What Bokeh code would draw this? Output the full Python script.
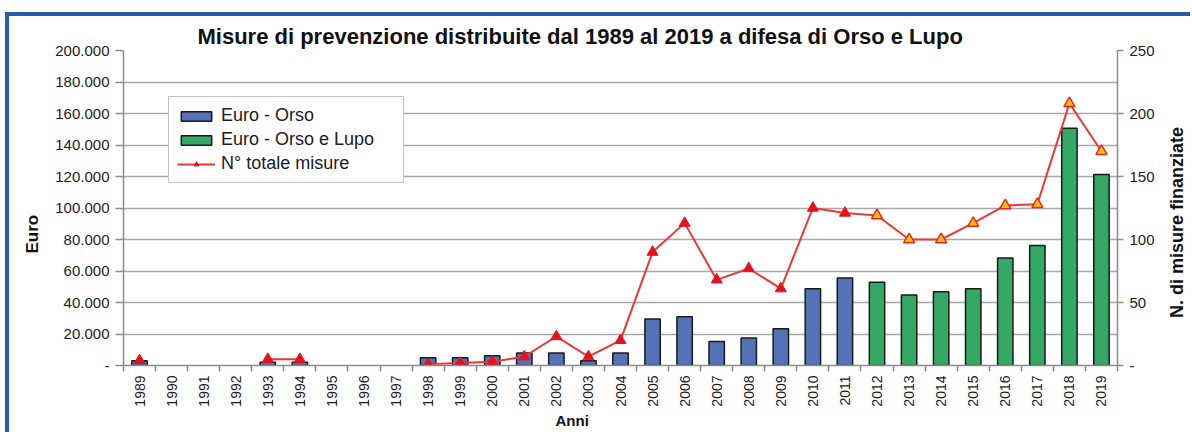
import math
from bokeh.plotting import figure
from bokeh.layouts import row
from bokeh.models import (Range1d, LinearAxis, FixedTicker, ColumnDataSource, Legend,
                          LegendItem, Title, Label, CustomJSTickFormatter)
from bokeh.embed import file_html
from bokeh.resources import INLINE

# ---------------- data ----------------
years = ["1989", "1990", "1991", "1992", "1993", "1994", "1995", "1996", "1997", "1998",
         "1999", "2000", "2001", "2002", "2003", "2004", "2005", "2006", "2007", "2008",
         "2009", "2010", "2011", "2012", "2013", "2014", "2015", "2016", "2017", "2018", "2019"]

euro_orso = [3000, None, None, None, 2000, 2000, None, None, None, 5000,
             5000, 6200, 8000, 8000, 3000, 8000, 29500, 31000, 15300, 17500,
             23400, 48700, 55500, None, None, None, None, None, None, None, None]

euro_orso_lupo = [None, None, None, None, None, None, None, None, None, None,
                  None, None, None, None, None, None, None, None, None, None,
                  None, None, None, 52800, 44700, 46800, 48700, 68300, 76200, 150600, 121300]

n_misure = [4, None, None, None, 5, 5, None, None, None, 1,
            2, 3, 7, 23, 7, 20, 90, 113, 68, 77,
            61, 125, 121, 119, 100, 100, 113, 127, 128, 208, 170]

euro_ticks = [0, 20000, 40000, 60000, 80000, 100000, 120000, 140000, 160000, 180000, 200000]
euro_tick_labels = ["-", "20.000", "40.000", "60.000", "80.000", "100.000", "120.000",
                    "140.000", "160.000", "180.000", "200.000"]
n_ticks = [0, 50, 100, 150, 200, 250]
n_tick_labels = ["-", "50", "100", "150", "200", "250"]

title_text = "Misure di prevenzione distribuite dal 1989 al 2019 a difesa di Orso e Lupo"

# ---------------- styles ----------------
FONT = "Liberation Sans"
TXT = "#1b1b24"
BLUE = "#5473B6"
GREEN = "#34A865"
RED = "#EE3636"
GRID = "#A8A8A8"
AXIS = "#8C8C8C"
FRAME_BLUE = "#2B5BA8"

n = len(years)
xc = [i + 0.5 for i in range(n)]

p = figure(width=1153, height=416, x_range=Range1d(0, n), y_range=Range1d(0, 200000),
           output_backend="svg", toolbar_location=None,
           min_border_left=114, min_border_right=45, min_border_top=34, min_border_bottom=67)
p.background_fill_color = "white"
p.border_fill_color = "white"
p.outline_line_color = None
p.extra_y_ranges = {"n": Range1d(0, 250)}

# title
p.title.text = title_text
p.title.align = "left"
p.title.offset = 74
p.title.text_font = FONT
p.title.text_font_size = "22px"
p.title.text_font_style = "bold"
p.title.text_color = "#111111"
p.title.standoff = 3

# bars
src_o = ColumnDataSource(dict(x=[xc[i] for i in range(n) if euro_orso[i] is not None],
                              top=[v for v in euro_orso if v is not None]))
src_l = ColumnDataSource(dict(x=[xc[i] for i in range(n) if euro_orso_lupo[i] is not None],
                              top=[v for v in euro_orso_lupo if v is not None]))
r_o = p.vbar(x="x", top="top", width=0.48, source=src_o, fill_color=BLUE,
             line_color="#1a1a1a", line_width=1.5)
r_l = p.vbar(x="x", top="top", width=0.48, source=src_l, fill_color=GREEN,
             line_color="#1a1a1a", line_width=1.5)

# line (breaks at missing years)
line_y = [float("nan") if v is None else v for v in n_misure]
r_line = p.line(x=xc, y=line_y, y_range_name="n", line_color=RED, line_width=2)

early = [i for i in range(n) if n_misure[i] is not None and euro_orso_lupo[i] is None]
late = [i for i in range(n) if n_misure[i] is not None and euro_orso_lupo[i] is not None]
r_tri = p.scatter(x=[xc[i] for i in early], y=[n_misure[i] for i in early], y_range_name="n",
                  marker="triangle", size=11, fill_color="#E3121B", line_color="#E3121B")
p.scatter(x=[xc[i] for i in late], y=[n_misure[i] for i in late], y_range_name="n",
          marker="triangle", size=11, fill_color="#FFC20E", line_color="#E8281E", line_width=1.5)

# axes
xa = p.xaxis[0]
xa.ticker = FixedTicker(ticks=xc, minor_ticks=list(range(n + 1)))
xa.formatter = CustomJSTickFormatter(args=dict(labels=years),
                                     code="return labels[Math.floor(tick)];")
xa.major_label_orientation = math.pi / 2
xa.major_tick_out = 0
xa.major_tick_in = 0
xa.minor_tick_out = 6
xa.minor_tick_in = 0
xa.minor_tick_line_color = AXIS
xa.minor_tick_line_width = 1.5
xa.axis_line_color = AXIS
xa.axis_line_width = 1.5
xa.major_label_standoff = 4
xa.major_label_text_font = FONT
xa.major_label_text_font_size = "14px"
xa.major_label_text_color = TXT

ya = p.yaxis[0]
ya.ticker = FixedTicker(ticks=euro_ticks)
ya.major_label_overrides = dict(zip(euro_ticks, euro_tick_labels))
ya.major_tick_out = 8
ya.major_tick_in = 0
ya.minor_tick_out = 0
ya.minor_tick_in = 0
ya.major_tick_line_color = AXIS
ya.major_tick_line_width = 1.5
ya.axis_line_color = AXIS
ya.axis_line_width = 1.5
ya.major_label_standoff = 6
ya.major_label_text_font = FONT
ya.major_label_text_font_size = "15px"
ya.major_label_text_color = TXT

ra = LinearAxis(y_range_name="n", ticker=FixedTicker(ticks=n_ticks))
ra.major_label_overrides = dict(zip(n_ticks, n_tick_labels))
ra.major_tick_out = 6
ra.major_tick_in = 0
ra.minor_tick_out = 0
ra.minor_tick_in = 0
ra.major_tick_line_color = AXIS
ra.major_tick_line_width = 1.5
ra.axis_line_color = AXIS
ra.axis_line_width = 1.5
ra.major_label_standoff = 6
ra.major_label_text_font = FONT
ra.major_label_text_font_size = "15px"
ra.major_label_text_color = TXT
p.add_layout(ra, "right")

p.ygrid.ticker = FixedTicker(ticks=euro_ticks)
p.ygrid.grid_line_color = GRID
p.ygrid.grid_line_width = 1.5
p.xgrid.visible = False

# axis titles
p.add_layout(Title(text="Euro", align="left", offset=112, standoff=22,
                   text_font=FONT, text_font_size="17px", text_font_style="bold",
                   text_color="#111111"), "left")
p.add_layout(Title(text="Anni", align="left", offset=432, standoff=0,
                   text_font=FONT, text_font_size="15px", text_font_style="bold",
                   text_color="#111111"), "below")

# legend
legend = Legend(items=[LegendItem(label="Euro - Orso", renderers=[r_o]),
                       LegendItem(label="Euro - Orso e Lupo", renderers=[r_l]),
                       LegendItem(label="N° totale misure", renderers=[r_line, r_tri])],
                location=(45, 182), padding=8, spacing=3, label_standoff=6,
                glyph_width=38, glyph_height=12, label_height=21, label_width=174,
                label_text_font=FONT, label_text_font_size="18px", label_text_color=TXT,
                border_line_color="#8A8A8A", border_line_width=1.5,
                background_fill_color="white", background_fill_alpha=1.0, margin=0)
p.add_layout(legend)

# narrow strip holding the right-hand axis title (reads bottom-to-top like the original)
p2 = figure(width=28, height=416, x_range=Range1d(0, 1), y_range=Range1d(0, 1),
            output_backend="svg", toolbar_location=None,
            min_border_left=0, min_border_right=0, min_border_top=0, min_border_bottom=0)
p2.axis.visible = False
p2.grid.visible = False
p2.outline_line_color = None
p2.background_fill_color = "white"
p2.border_fill_color = "white"
p2.add_layout(Label(x=14, y=143, x_units="screen", y_units="screen",
                    text="N. di misure finanziate", angle=math.pi / 2,
                    text_align="center", text_baseline="middle",
                    text_font=FONT, text_font_size="18px", text_font_style="bold",
                    text_color="#111111"))

layout = row(p, p2, spacing=0,
             styles={"border-top": f"4px solid {FRAME_BLUE}",
                     "border-left": f"4px solid {FRAME_BLUE}",
                     "margin-left": "5px", "margin-top": "12px"})

open("out.html", "w").write(file_html(layout, INLINE))
